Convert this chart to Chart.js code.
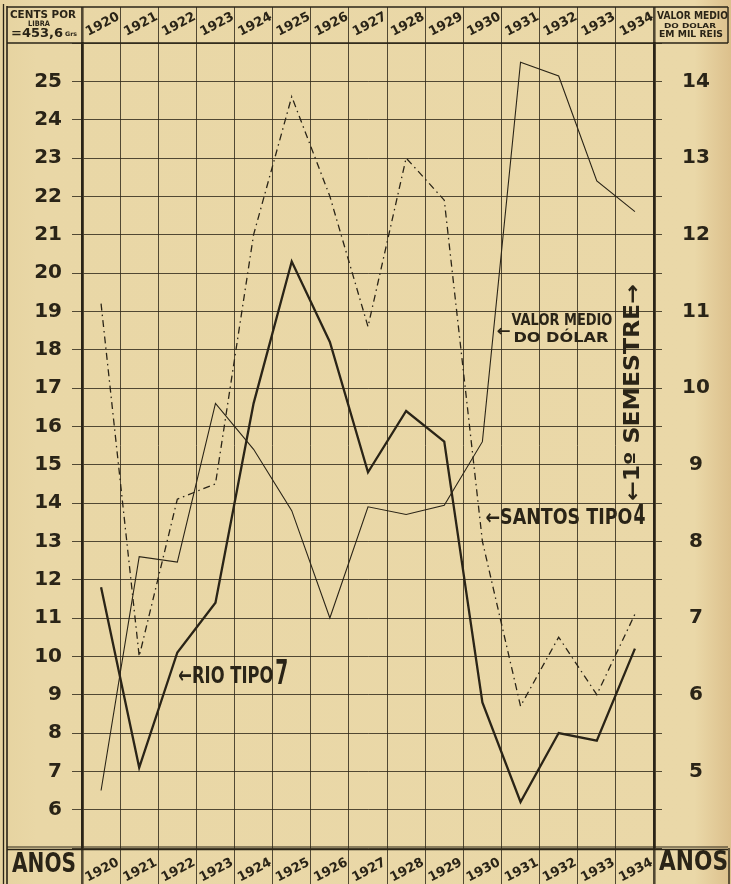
<!DOCTYPE html>
<html><head><meta charset="utf-8">
<style>
html,body{margin:0;padding:0;background:#e9d7a6;}
canvas{display:block}
</style>
<script src="https://cdn.jsdelivr.net/npm/chart.js@4.4.0/dist/chart.umd.min.js"></script>
</head><body>
<canvas id="c" width="731" height="884"></canvas>
<script>
// ---------- data ----------
const years = ['1920','1921','1922','1923','1924','1925','1926','1927','1928','1929','1930','1931','1932','1933','1934'];
// cents por libra (left scale)
const rioTipo7    = [11.8, 7.1, 10.1, 11.4, 16.6, 20.3, 18.2, 14.8, 16.4, 15.6, 8.8, 6.2, 8.0, 7.8, 10.2];
const santosTipo4 = [19.2, 10.0, 14.1, 14.5, 21.0, 24.6, 22.0, 18.6, 23.0, 21.9, 13.0, 8.7, 10.5, 9.0, 11.1];
// valor medio do dolar em mil reis (right scale)
const valorDolar  = [4.75, 7.8, 7.73, 9.8, 9.2, 8.4, 7.0, 8.45, 8.35, 8.47, 9.3, 14.25, 14.07, 12.7, 12.3];
const leftTickLabels  = [6,7,8,9,10,11,12,13,14,15,16,17,18,19,20,21,22,23,24,25];
const rightTickLabels = [5,6,7,8,9,10,11,12,13,14];

// ---------- style ----------
const FONT = "'DejaVu Sans', 'Liberation Sans', sans-serif";
const INK = '#2a2417';
const GRID = 'rgba(48,40,26,0.82)';
const PAPER = '#e9d7a6';

function txt(ctx, s, x, y, cap, w, rot) {
  const size = cap / 0.73;
  ctx.save();
  ctx.font = 'bold ' + size + 'px ' + FONT;
  ctx.textBaseline = 'middle';
  ctx.textAlign = 'left';
  ctx.fillStyle = INK;
  const m = ctx.measureText(s).width;
  ctx.translate(x, y);
  if (rot) ctx.rotate(rot);
  ctx.scale(w / m, 1);
  ctx.fillText(s, 0, 0);
  ctx.restore();
}
function line(ctx, x1, y1, x2, y2, w) {
  ctx.beginPath(); ctx.lineWidth = w; ctx.strokeStyle = INK;
  ctx.moveTo(x1, y1); ctx.lineTo(x2, y2); ctx.stroke();
}

const paper = {
  id: 'paper',
  beforeDraw(chart) {
    const c = chart.ctx, W = chart.width, H = chart.height;
    c.save();
    const g = c.createLinearGradient(0, 0, W, 0);
    g.addColorStop(0, '#e6d3a0');
    g.addColorStop(0.05, PAPER);
    g.addColorStop(0.95, '#ead8a8');
    g.addColorStop(1, '#dcc08c');
    c.fillStyle = g;
    c.fillRect(0, 0, W, H);
    c.restore();
  },
  beforeDatasetsDraw(chart) {
    const c = chart.ctx, a = chart.chartArea, W = chart.width, H = chart.height;
    c.save();
    line(c, 3.5, 4, 3.5, H, 1.3);
    line(c, 7, 6, 7, H, 1.6);
    line(c, 7, 7, W - 3, 7, 1.6);
    line(c, 7, a.top, W - 3, a.top, 1.6);
    line(c, 7, a.bottom - 1, W - 3, a.bottom - 1, 1.2);
    line(c, 7, a.bottom + 1.5, W - 3, a.bottom + 1.5, 1.4);
    line(c, W - 3, 7, W - 3, a.top, 1.4);
    line(c, W - 2, a.bottom, W - 2, H, 1.4);
    c.restore();
  },
  afterDatasetsDraw(chart) {
    const c = chart.ctx, a = chart.chartArea;
    const xs = chart.scales.x, ys = chart.scales.y;
    const X = i => xs.getPixelForValue(i), Y = v => ys.getPixelForValue(v);
    // header cells
    txt(c, 'CENTS POR', 10, 15, 8, 66);
    txt(c, 'LIBRA', 28, 24.5, 5.5, 22);
    txt(c, '=453,6', 11, 34, 8.5, 52);
    txt(c, 'Grs', 65, 34.5, 4.5, 12);
    txt(c, 'VALOR MEDIO', a.right + 3, 16, 8, 71);
    txt(c, 'DO DOLAR', a.right + 10, 26, 5, 52);
    txt(c, 'EM MIL REIS', a.right + 5, 35, 7, 64);
    // footer cells
    txt(c, 'ANOS', 12, 865, 19, 64);
    txt(c, 'ANOS', a.right + 5, 863, 20, 69);
    // annotations
    txt(c, '\u2190RIO TIPO', X(2) + 1, Y(9.45), 17, 95);
    txt(c, '7', X(2) + 98, Y(9.5), 24, 13);
    txt(c, '\u2190SANTOS TIPO', X(10) + 3, Y(13.6), 15, 147);
    txt(c, '4', X(10) + 151, Y(13.65), 20, 12);
    txt(c, '\u2190', X(10) + 14, Y(18.45), 11, 14);
    txt(c, 'VALOR MEDIO', X(10) + 29, Y(18.75), 12, 101);
    txt(c, 'DO DÓLAR', X(10) + 31, Y(18.3), 10.5, 95);
    txt(c, '\u21901\u00BA SEMESTRE\u2192', X(14) - 1, Y(14.05), 15, 217, -Math.PI / 2);
  }
};

const edgeWidth = c => (c.type !== 'tick' || c.index === 0) ? 2.6 : 1;

new Chart(document.getElementById('c'), {
  type: 'line',
  data: {
    labels: years,
    datasets: [
      { label: 'Rio Tipo 7', data: rioTipo7, yAxisID: 'y', borderColor: INK, borderWidth: 2.3, pointRadius: 0, tension: 0 },
      { label: 'Santos Tipo 4', data: santosTipo4, yAxisID: 'y', borderColor: INK, borderWidth: 1.3, borderDash: [7, 4, 1.5, 4], pointRadius: 0, tension: 0 },
      { label: 'Valor medio do dolar', data: valorDolar, yAxisID: 'y2', borderColor: INK, borderWidth: 1.1, pointRadius: 0, tension: 0 }
    ]
  },
  options: {
    responsive: false, animation: false, devicePixelRatio: 1,
    layout: { padding: 0 },
    plugins: { legend: { display: false }, tooltip: { enabled: false } },
    scales: {
      x: {
        type: 'category', position: 'bottom', offset: true,
        grid: { offset: true, color: GRID, lineWidth: edgeWidth, tickLength: 36, drawOnChartArea: true },
        border: { display: false },
        ticks: { autoSkip: false, minRotation: 28, maxRotation: 28, padding: -29, labelOffset: 17, color: INK, font: { size: 13, weight: 'bold', family: FONT } },
        afterFit: s => { s.height = 36; }
      },
      xTop: {
        type: 'category', position: 'top', offset: true, labels: years,
        grid: { offset: true, color: GRID, lineWidth: edgeWidth, tickLength: 36, drawOnChartArea: false },
        border: { display: false },
        ticks: { autoSkip: false, minRotation: 28, maxRotation: 28, padding: -33, labelOffset: -7, color: INK, font: { size: 13, weight: 'bold', family: FONT } },
        afterFit: s => { s.height = 43; }
      },
      y: {
        position: 'left', min: 5, max: 26,
        grid: { color: GRID, lineWidth: 1, tickLength: 10 },
        border: { display: true, width: 2.6, color: INK },
        ticks: { stepSize: 1, autoSkip: false, padding: 10, color: INK, font: { size: 20, weight: 'bold', family: FONT },
                 callback: v => leftTickLabels.includes(v) ? String(v) : '' },
        afterFit: s => { s.width = 82; }
      },
      y2: {
        position: 'right', min: 4, max: 14.5,
        grid: { color: GRID, lineWidth: 1, tickLength: 8, drawOnChartArea: false },
        border: { display: true, width: 2.6, color: INK },
        ticks: { stepSize: 0.5, autoSkip: false, padding: 20, crossAlign: 'center', color: INK, font: { size: 20, weight: 'bold', family: FONT },
                 callback: v => rightTickLabels.includes(v) ? String(v) : '' },
        afterFit: s => { s.width = 77; }
      }
    }
  },
  plugins: [paper]
});
</script>
</body></html>
